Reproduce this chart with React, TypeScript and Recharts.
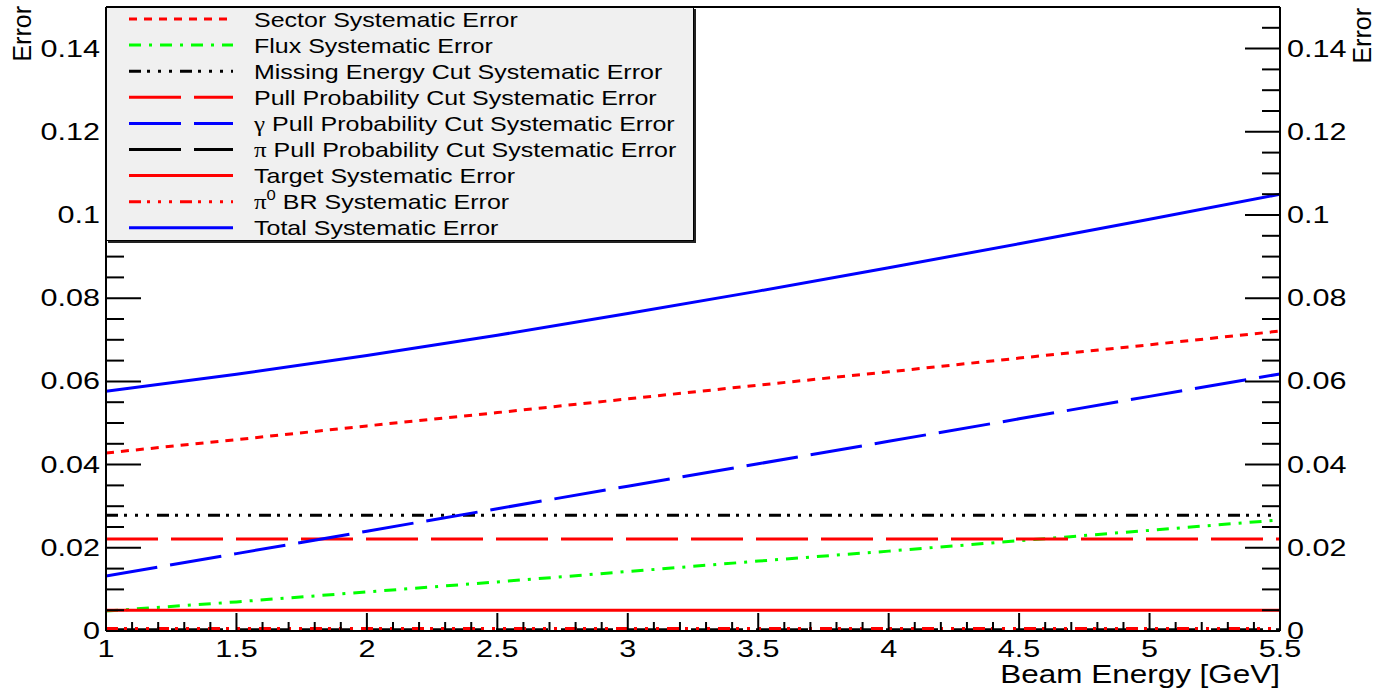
import React from 'react';
import { LineChart, Line, XAxis, YAxis, ReferenceLine } from 'recharts';

const FONT = '"Liberation Sans", Arial, Helvetica, sans-serif';

// beam energy in GeV
const energy = [1, 1.5, 2, 2.5, 3, 3.5, 4, 4.5, 5, 5.5];

const sector = [0.0428, 0.046, 0.0493, 0.0525, 0.0558, 0.0591, 0.0623, 0.0656, 0.0688, 0.0721];
const flux = [0.0048, 0.007, 0.0094, 0.0118, 0.0143, 0.0168, 0.0192, 0.0217, 0.0242, 0.0267];
const missingEnergy = [0.0278, 0.0278, 0.0278, 0.0278, 0.0278, 0.0278, 0.0278, 0.0278, 0.0278, 0.0278];
const pullProb = [0.0221, 0.0221, 0.0221, 0.0221, 0.0221, 0.0221, 0.0221, 0.0221, 0.0221, 0.0221];
const gammaPull = [0.0132, 0.0186, 0.024, 0.0294, 0.0348, 0.0402, 0.0456, 0.051, 0.0564, 0.0618];
const piPull = [0.0003, 0.0003, 0.0003, 0.0003, 0.0003, 0.0003, 0.0003, 0.0003, 0.0003, 0.0003];
const target = [0.005, 0.005, 0.005, 0.005, 0.005, 0.005, 0.005, 0.005, 0.005, 0.005];
const pi0BR = [0.0006, 0.0006, 0.0006, 0.0006, 0.0006, 0.0006, 0.0006, 0.0006, 0.0006, 0.0006];
const total = [0.0576, 0.0617, 0.0662, 0.0711, 0.0763, 0.0817, 0.0873, 0.0931, 0.099, 0.105];

const xTicks = Array.from({ length: 46 }, (_, i) => +(1 + i * 0.1).toFixed(1));
const yTicks = Array.from({ length: 30 }, (_, i) => +(i * 0.005).toFixed(3));

const DOT3 = '12 6 3 8 3 8 3 8';
const LONG = '52 13';

const series = [
  { key: 'sector', name: 'Sector Systematic Error', color: '#ff0000', dash: '8 7' },
  { key: 'flux', name: 'Flux Systematic Error', color: '#00ff00', dash: '12 8 3 8' },
  { key: 'missingEnergy', name: 'Missing Energy Cut Systematic Error', color: '#000000', dash: DOT3 },
  { key: 'pullProb', name: 'Pull Probability Cut Systematic Error', color: '#ff0000', dash: LONG },
  { key: 'gammaPull', name: 'γ|Pull Probability Cut Systematic Error', color: '#0000ff', dash: LONG },
  { key: 'piPull', name: 'π|Pull Probability Cut Systematic Error', color: '#000000', dash: LONG },
  { key: 'target', name: 'Target Systematic Error', color: '#ff0000', dash: undefined },
  { key: 'pi0BR', name: 'π0|BR Systematic Error', color: '#ff0000', dash: DOT3 },
  { key: 'total', name: 'Total Systematic Error', color: '#0000ff', dash: undefined },
];

const data = energy.map((e, i) => ({
  energy: e,
  sector: sector[i],
  flux: flux[i],
  missingEnergy: missingEnergy[i],
  pullProb: pullProb[i],
  gammaPull: gammaPull[i],
  piPull: piPull[i],
  target: target[i],
  pi0BR: pi0BR[i],
  total: total[i],
}));

const isMajor = (v: number, step: number) => Math.abs(v / step - Math.round(v / step)) < 1e-6;

function SText({ x, y, anchor, size, sx, children }: any) {
  return (
    <text
      transform={`translate(${x},${y}) scale(${sx},1)`}
      textAnchor={anchor}
      fontSize={size}
      fontFamily={FONT}
      fill="#000"
    >
      {children}
    </text>
  );
}

const LeftTick = ({ x, y, payload }: any) => {
  const v = payload.value;
  const major = isMajor(v, 0.02);
  return (
    <g>
      <line x1={x} x2={x + (major ? 35 : 18)} y1={y} y2={y} stroke="#000" strokeWidth={2} />
      {major && (
        <SText x={x - 6} y={y + 8} anchor="end" size={23} sx={1.33}>
          {v === 0 ? '0' : String(+v.toFixed(2))}
        </SText>
      )}
    </g>
  );
};

const RightTick = ({ x, y, payload }: any) => {
  const v = payload.value;
  const major = isMajor(v, 0.02);
  return (
    <g>
      <line x1={x} x2={x - (major ? 35 : 18)} y1={y} y2={y} stroke="#000" strokeWidth={2} />
      {major && (
        <SText x={x + 7} y={y + 8} anchor="start" size={23} sx={1.33}>
          {v === 0 ? '0' : String(+v.toFixed(2))}
        </SText>
      )}
    </g>
  );
};

const BottomTick = ({ x, y, payload }: any) => {
  const v = payload.value;
  const major = isMajor(v, 0.5);
  return (
    <g>
      <line x1={x} x2={x} y1={y} y2={y - (major ? 18 : 9)} stroke="#000" strokeWidth={2} />
      {major && (
        <SText x={x} y={y + 26} anchor="middle" size={23} sx={1.33}>
          {String(v)}
        </SText>
      )}
    </g>
  );
};

function LegendBox() {
  return (
    <div
      style={{
        position: 'absolute',
        left: 106,
        top: 7,
        width: 586,
        height: 232,
        background: '#f0f0f0',
        border: '1px solid #000',
        boxShadow: '2px 2px 0 #222',
      }}
    >
      <svg width={586} height={232} style={{ display: 'block' }}>
        {series.map((s, i) => {
          const cy = 11 + i * 26.1;
          const parts = s.name.split('|');
          return (
            <g key={s.key}>
              <line
                x1={22}
                x2={126}
                y1={cy}
                y2={cy}
                stroke={s.color}
                strokeWidth={3}
                strokeDasharray={s.dash}
              />
              <text
                transform={`translate(147,${cy + 7.5}) scale(1.19,1)`}
                fontSize={21}
                fontFamily={FONT}
                fill="#000"
              >
                {parts.length > 1 ? (
                  <>
                    <tspan fontFamily='"Liberation Serif", serif'>{parts[0].replace('0', '')}</tspan>
                    {parts[0].includes('0') && (
                      <tspan fontSize={14} dy={-9}>
                        0
                      </tspan>
                    )}
                    <tspan dy={parts[0].includes('0') ? 9 : 0}>{' ' + parts[1]}</tspan>
                  </>
                ) : (
                  s.name
                )}
              </text>
            </g>
          );
        })}
      </svg>
    </div>
  );
}

export default function App() {
  return (
    <div style={{ position: 'absolute', left: 0, top: 0, width: 1381, height: 689, background: '#fff' }}>
      <LineChart width={1381} height={689} data={data} margin={{ top: 7, right: 0, bottom: 0, left: 0 }}>
        <XAxis
          dataKey="energy"
          type="number"
          domain={[1, 5.5]}
          ticks={xTicks}
          interval={0}
          tickSize={0}
          tickMargin={0}
          tickLine={false}
          tick={<BottomTick />}
          height={58}
          axisLine={{ stroke: '#000', strokeWidth: 2 }}
          allowDataOverflow
          label={() => (
            <SText x={1280} y={683} anchor="end" size={26} sx={1.21}>
              Beam Energy [GeV]
            </SText>
          )}
        />
        <YAxis
          yAxisId="left"
          domain={[0, 0.15]}
          ticks={yTicks}
          interval={0}
          tickSize={0}
          tickMargin={0}
          tickLine={false}
          tick={<LeftTick />}
          width={106}
          axisLine={{ stroke: '#000', strokeWidth: 2 }}
          allowDataOverflow
          label={() => (
            <text
              transform="translate(31,6) rotate(-90)"
              textAnchor="end"
              fontSize={25}
              fontFamily={FONT}
              fill="#000"
            >
              Error
            </text>
          )}
        />
        <YAxis
          yAxisId="right"
          orientation="right"
          domain={[0, 0.15]}
          ticks={yTicks}
          interval={0}
          tickSize={0}
          tickMargin={0}
          tickLine={false}
          tick={<RightTick />}
          width={101}
          axisLine={{ stroke: '#000', strokeWidth: 2 }}
          allowDataOverflow
          label={() => (
            <text
              transform="translate(1371,8) rotate(-90)"
              textAnchor="end"
              fontSize={25}
              fontFamily={FONT}
              fill="#000"
            >
              Error
            </text>
          )}
        />
        <ReferenceLine yAxisId="left" y={0.15} stroke="#000" strokeWidth={2} />
        {series.map((s) => (
          <Line
            key={s.key}
            yAxisId="left"
            type="linear"
            dataKey={s.key}
            stroke={s.color}
            strokeWidth={3}
            strokeDasharray={s.dash}
            dot={false}
            activeDot={false}
            isAnimationActive={false}
          />
        ))}
      </LineChart>
      <LegendBox />
    </div>
  );
}
